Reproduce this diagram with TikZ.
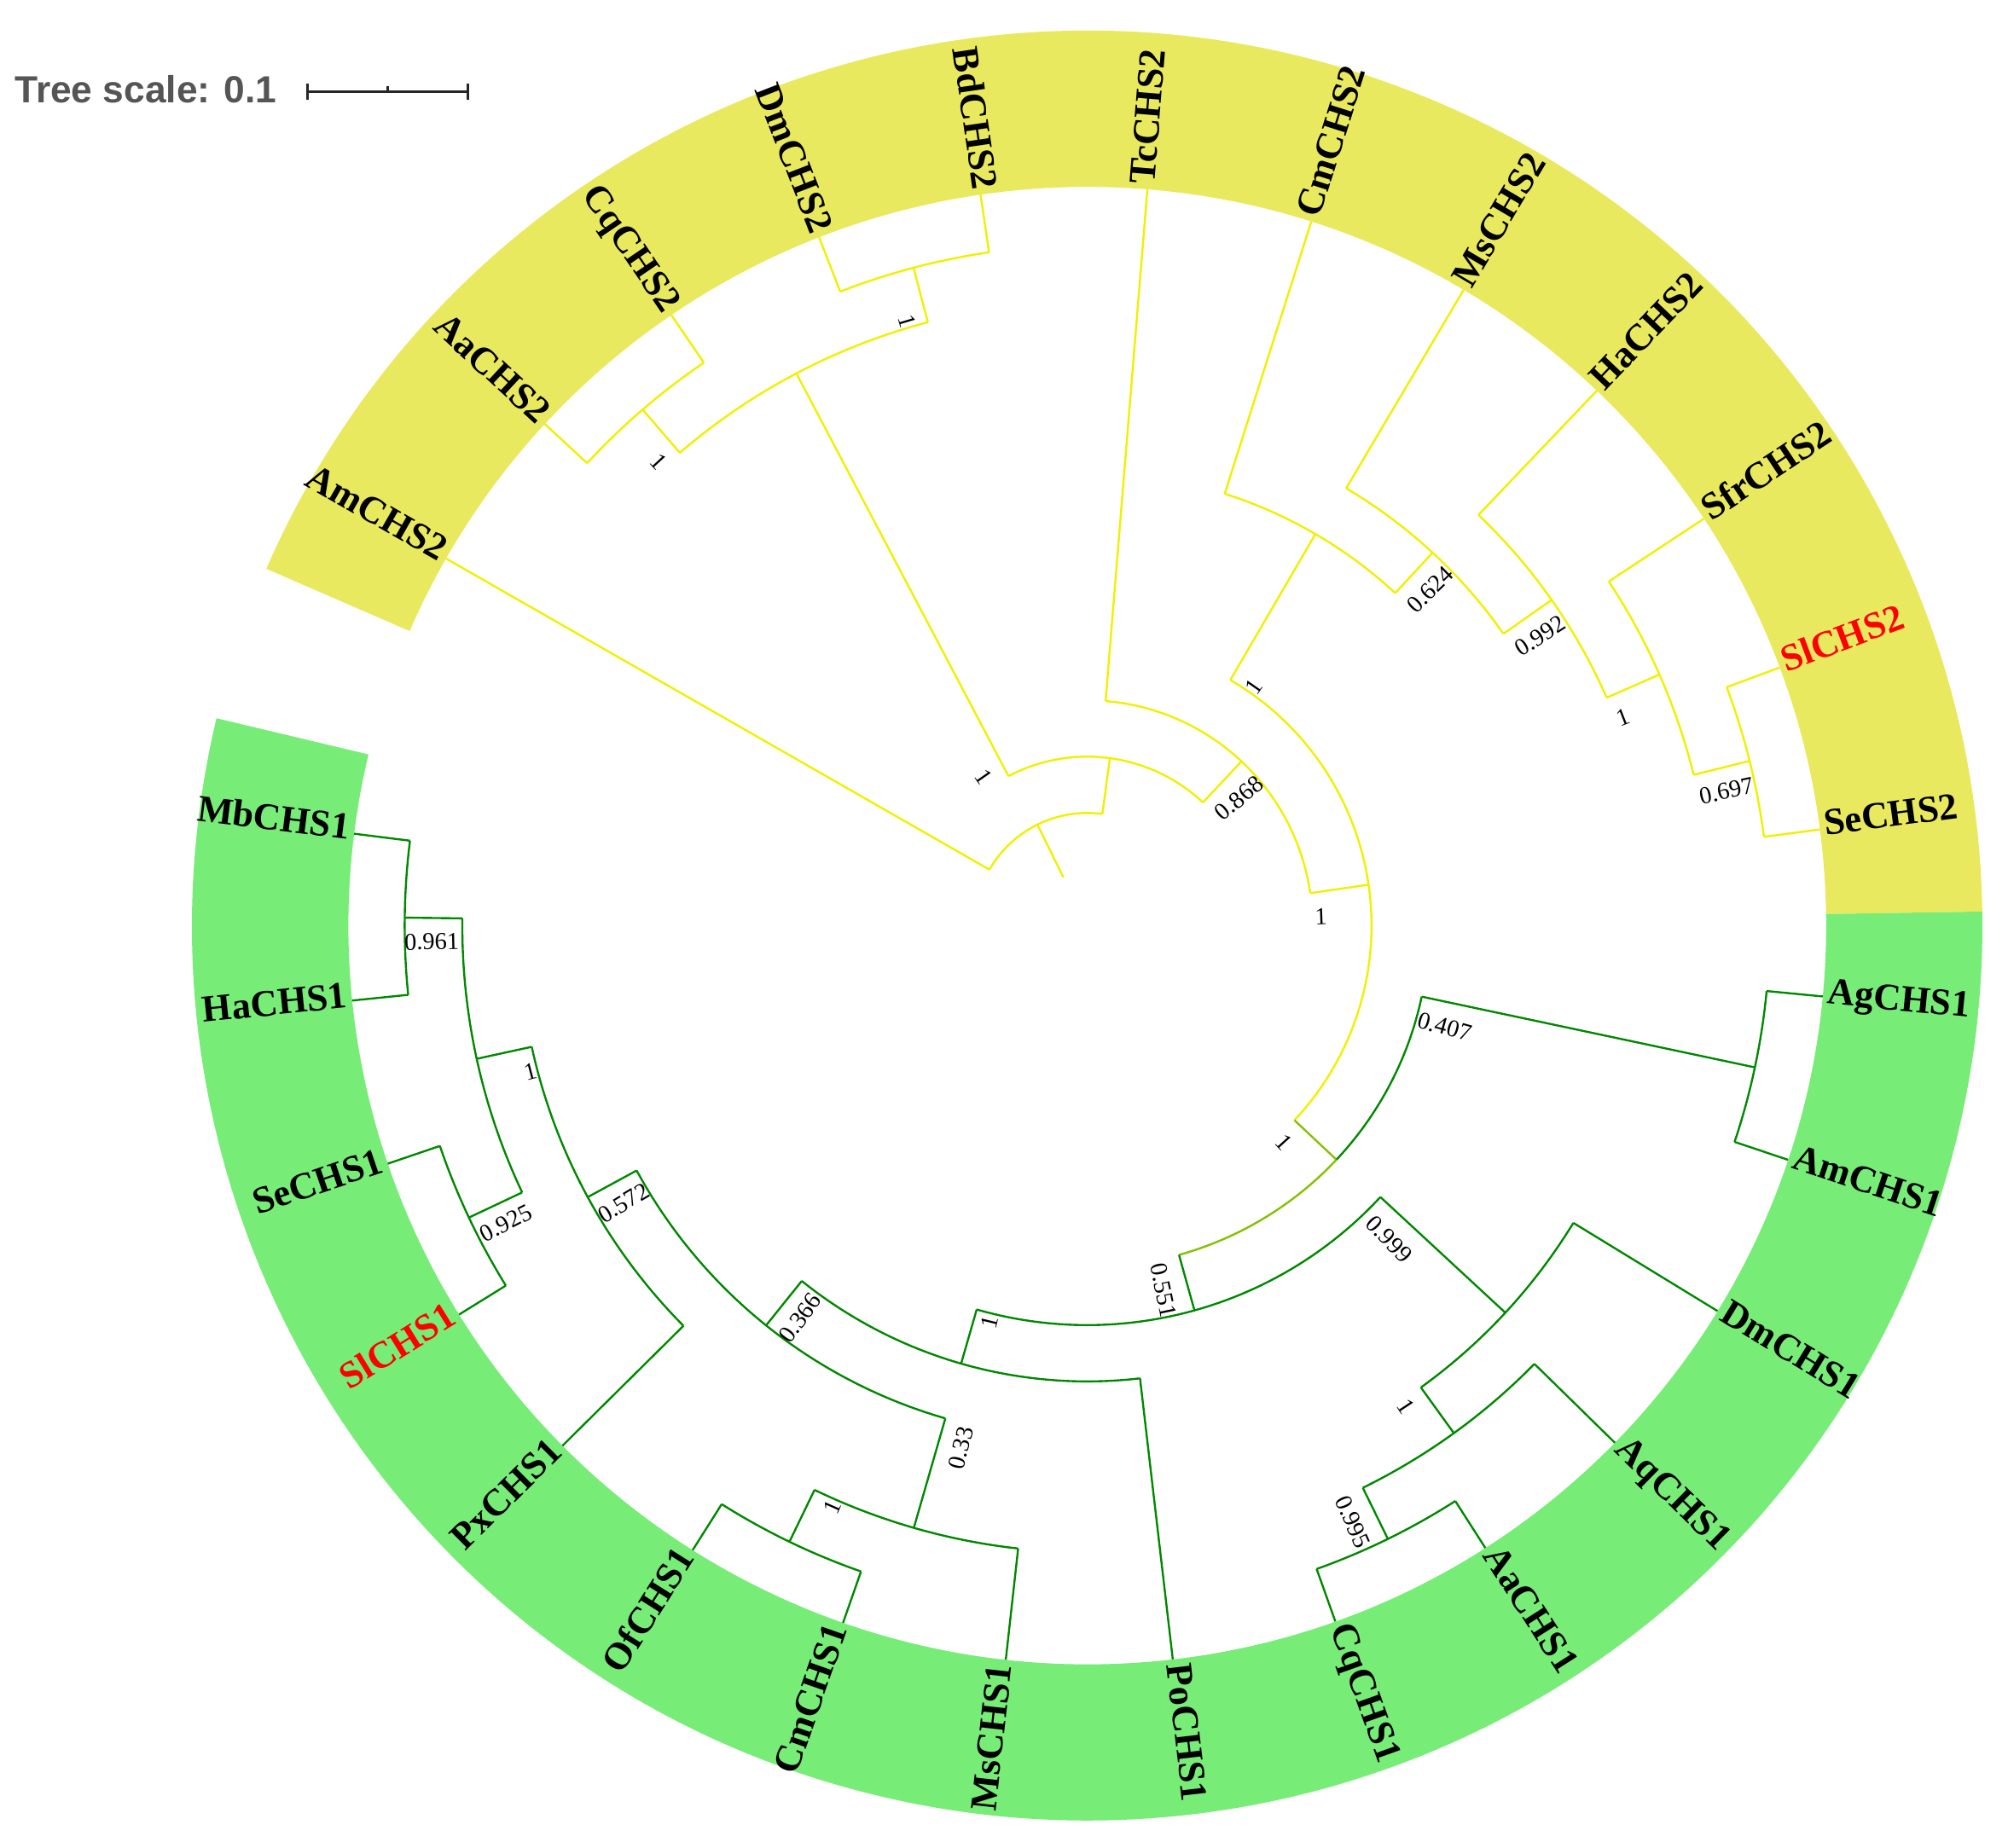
\documentclass[tikz,border=0pt]{standalone}
\usepackage{fontspec}
\setmainfont{Liberation Serif}
\newfontfamily\scalesans{Liberation Sans}
\definecolor{ringyellow}{HTML}{E9E95F}
\definecolor{ringgreen}{HTML}{77EC77}
\definecolor{branchyellow}{HTML}{F0F000}
\definecolor{branchgreen}{HTML}{008800}
\definecolor{scalegray}{HTML}{555555}
\begin{document}
\begin{tikzpicture}[x=0.02cm, y=0.02cm]
  \tikzstyle{yb} = [draw=branchyellow, line width=0.9pt]
  \tikzstyle{gb} = [draw=branchgreen, line width=0.9pt]
  \tikzstyle{ygb} = [draw=branchyellow!55!branchgreen, line width=0.9pt]
  \tikzstyle{leaf} = [font=\fontsize{16.8}{20}\selectfont\bfseries, inner sep=2pt, text height=1.5ex, text depth=0.2ex]
  \tikzstyle{boot} = [font=\fontsize{10.8}{12}\selectfont, inner sep=0pt]

  \useasboundingbox (-849,-720) rectangle (719,723);

  % scale bar
  \node (scaletext) [anchor=base west, inner sep=0pt, text=scalegray, font=\scalesans\bfseries\fontsize{16.8}{20}\selectfont] at (-837.7,642.4) {Tree scale: 0.1};
  \coordinate (sbl) at (-609,651.4);
  \coordinate (sbr) at (-483.6,651.4);
  \coordinate (sbm) at (-546.3,651.4);
  \draw [line width=1.1pt, black!85] (sbl) -- (sbr);
  \draw [line width=1.1pt, black!85] (-609,645) -- (-609,657.8);
  \draw [line width=1.1pt, black!85] (-483.6,645) -- (-483.6,657.8);
  \draw [line width=1.1pt, black!85] (sbm) -- (-546.3,655.4);

  % coloured ring
  \fill [ringyellow] (0.9:577) arc[start angle=0.9, end angle=156.5, radius=577] -- (156.5:699) arc[start angle=156.5, end angle=0.9, radius=699] -- cycle;
  \fill [ringgreen] (0.9:577) arc[start angle=0.9, end angle=-193.4, radius=577] -- (-193.4:699) arc[start angle=-193.4, end angle=0.9, radius=699] -- cycle;

  % leaves, CHS2
  \node (amchs2) [leaf, anchor=east, rotate=330.20] at (150.20:577) {AmCHS2};
  \node (aachs2) [leaf, anchor=east, rotate=317.23] at (137.23:577) {AaCHS2};
  \node (cqchs2) [leaf, anchor=east, rotate=304.25] at (124.25:577) {CqCHS2};
  \node (dmchs2) [leaf, anchor=east, rotate=291.28] at (111.28:577) {DmCHS2};
  \node (bdchs2) [leaf, anchor=east, rotate=278.30] at (98.30:577) {BdCHS2};
  \node (tcchs2) [leaf, anchor=west, rotate=85.33] at (85.33:577) {TcCHS2};
  \node (cmchs2) [leaf, anchor=west, rotate=72.35] at (72.35:577) {CmCHS2};
  \node (mschs2) [leaf, anchor=west, rotate=59.38] at (59.38:577) {MsCHS2};
  \node (hachs2) [leaf, anchor=west, rotate=46.40] at (46.40:577) {HaCHS2};
  \node (sfrchs2) [leaf, anchor=west, rotate=33.43] at (33.43:577) {SfrCHS2};
  \node (slchs2) [leaf, anchor=west, rotate=20.45, text=red] at (20.45:577) {SlCHS2};
  \node (sechs2) [leaf, anchor=west, rotate=7.48] at (7.48:577) {SeCHS2};

  % leaves, CHS1
  \node (agchs1) [leaf, anchor=west, rotate=-5.50] at (-5.50:577) {AgCHS1};
  \node (amchs1) [leaf, anchor=west, rotate=-18.48] at (-18.48:577) {AmCHS1};
  \node (dmchs1) [leaf, anchor=west, rotate=-31.45] at (-31.45:577) {DmCHS1};
  \node (aqchs1) [leaf, anchor=west, rotate=-44.43] at (-44.43:577) {AqCHS1};
  \node (aachs1) [leaf, anchor=west, rotate=-57.40] at (-57.40:577) {AaCHS1};
  \node (cqchs1) [leaf, anchor=west, rotate=-70.38] at (-70.38:577) {CqCHS1};
  \node (pochs1) [leaf, anchor=west, rotate=-83.35] at (-83.35:577) {PoCHS1};
  \node (mschs1) [leaf, anchor=east, rotate=83.67] at (-96.33:577) {MsCHS1};
  \node (cmchs1) [leaf, anchor=east, rotate=70.70] at (-109.30:577) {CmCHS1};
  \node (ofchs1) [leaf, anchor=east, rotate=57.72] at (-122.28:577) {OfCHS1};
  \node (pxchs1) [leaf, anchor=east, rotate=44.75] at (-135.25:577) {PxCHS1};
  \node (slchs1) [leaf, anchor=east, rotate=31.77, text=red] at (-148.23:577) {SlCHS1};
  \node (sechs1) [leaf, anchor=east, rotate=18.80] at (-161.20:577) {SeCHS1};
  \node (hachs1) [leaf, anchor=east, rotate=5.82] at (-174.18:577) {HaCHS1};
  \node (mbchs1) [leaf, anchor=east, rotate=-7.15] at (-187.15:577) {MbCHS1};

  % inner nodes
  \coordinate (root) at (116.25:42);
  \coordinate (nD) at (116.25:88);
  \coordinate (nC) at (82.29:132);
  \coordinate (nE) at (117.77:487.5);
  \coordinate (nF) at (130.74:532);
  \coordinate (nG) at (104.79:531.5);
  \coordinate (nA) at (46.81:176);
  \coordinate (nB) at (8.29:222);
  \coordinate (nH) at (59.78:354);
  \coordinate (nI) at (47.21:397);
  \coordinate (nJ) at (35.05:443);
  \coordinate (nK) at (23.70:488);
  \coordinate (nL) at (13.97:533);
  \coordinate (gRoot) at (-43.21:267);
  \coordinate (gM) at (-11.99:533);
  \coordinate (gN) at (-74.43:312);
  \coordinate (gU) at (-42.80:445);
  \coordinate (gAB) at (-54.16:489);
  \coordinate (gAC) at (-63.89:533.5);
  \coordinate (gT) at (-106.06:356);
  \coordinate (gS) at (-128.77:400.5);
  \coordinate (gV) at (-106.06:489.5);
  \coordinate (gAA) at (-115.79:534.5);
  \coordinate (gW) at (-151.47:444);
  \coordinate (gX) at (-167.69:488);
  \coordinate (gZ) at (-154.72:534);
  \coordinate (gY) at (-180.67:533);

  % CHS2 branches
  \draw [yb] (root) -- (nD);
  \draw [yb] (150.20:88) arc[start angle=150.20, end angle=82.29, radius=88];
  \draw [yb] (150.20:88) -- (amchs2);
  \draw [yb] (82.29:88) -- (nC);
  \draw [yb] (117.77:132) arc[start angle=117.77, end angle=46.81, radius=132];
  \draw [yb] (117.77:132) -- (nE);
  \draw [yb] (130.74:487.5) arc[start angle=130.74, end angle=104.79, radius=487.5];
  \draw [yb] (130.74:487.5) -- (nF);
  \draw [yb] (137.23:532) arc[start angle=137.23, end angle=124.25, radius=532];
  \draw [yb] (137.23:532) -- (aachs2);
  \draw [yb] (124.25:532) -- (cqchs2);
  \draw [yb] (104.79:487.5) -- (nG);
  \draw [yb] (111.28:531.5) arc[start angle=111.28, end angle=98.30, radius=531.5];
  \draw [yb] (111.28:531.5) -- (dmchs2);
  \draw [yb] (98.30:531.5) -- (bdchs2);
  \draw [yb] (46.81:132) -- (nA);
  \draw [yb] (85.33:176) arc[start angle=85.33, end angle=8.29, radius=176];
  \draw [yb] (85.33:176) -- (tcchs2);
  \draw [yb] (8.29:176) -- (nB);
  \draw [yb] (59.78:222) arc[start angle=59.78, end angle=-43.21, radius=222];
  \draw [yb] (59.78:222) -- (nH);
  \draw [yb] (72.35:354) arc[start angle=72.35, end angle=47.21, radius=354];
  \draw [yb] (72.35:354) -- (cmchs2);
  \draw [yb] (47.21:354) -- (nI);
  \draw [yb] (59.38:397) arc[start angle=59.38, end angle=35.05, radius=397];
  \draw [yb] (59.38:397) -- (mschs2);
  \draw [yb] (35.05:397) -- (nJ);
  \draw [yb] (46.40:443) arc[start angle=46.40, end angle=23.70, radius=443];
  \draw [yb] (46.40:443) -- (hachs2);
  \draw [yb] (23.70:443) -- (nK);
  \draw [yb] (33.43:488) arc[start angle=33.43, end angle=13.97, radius=488];
  \draw [yb] (33.43:488) -- (sfrchs2);
  \draw [yb] (13.97:488) -- (nL);
  \draw [yb] (20.45:533) arc[start angle=20.45, end angle=7.48, radius=533];
  \draw [yb] (20.45:533) -- (slchs2);
  \draw [yb] (7.48:533) -- (sechs2);

  % CHS1 branches
  \draw [ygb] (-43.21:222) -- (gRoot);
  \draw [gb] (-11.99:267) arc[start angle=-11.99, end angle=-43.21, radius=267];
  \draw [ygb] (-43.21:267) arc[start angle=-43.21, end angle=-74.43, radius=267];
  \draw [gb] (-11.99:267) -- (gM);
  \draw [gb] (-5.50:533) arc[start angle=-5.50, end angle=-18.48, radius=533];
  \draw [gb] (-5.50:533) -- (agchs1);
  \draw [gb] (-18.48:533) -- (amchs1);
  \draw [gb] (-74.43:267) -- (gN);
  \draw [gb] (-42.80:312) arc[start angle=-42.80, end angle=-106.06, radius=312];
  \draw [gb] (-42.80:312) -- (gU);
  \draw [gb] (-31.45:445) arc[start angle=-31.45, end angle=-54.16, radius=445];
  \draw [gb] (-31.45:445) -- (dmchs1);
  \draw [gb] (-54.16:445) -- (gAB);
  \draw [gb] (-44.43:489) arc[start angle=-44.43, end angle=-63.89, radius=489];
  \draw [gb] (-44.43:489) -- (aqchs1);
  \draw [gb] (-63.89:489) -- (gAC);
  \draw [gb] (-57.40:533.5) arc[start angle=-57.40, end angle=-70.38, radius=533.5];
  \draw [gb] (-57.40:533.5) -- (aachs1);
  \draw [gb] (-70.38:533.5) -- (cqchs1);
  \draw [gb] (-106.06:312) -- (gT);
  \draw [gb] (-83.35:356) arc[start angle=-83.35, end angle=-128.77, radius=356];
  \draw [gb] (-83.35:356) -- (pochs1);
  \draw [gb] (-128.77:356) -- (gS);
  \draw [gb] (-106.06:400.5) arc[start angle=-106.06, end angle=-151.47, radius=400.5];
  \draw [gb] (-106.06:400.5) -- (gV);
  \draw [gb] (-96.33:489.5) arc[start angle=-96.33, end angle=-115.79, radius=489.5];
  \draw [gb] (-96.33:489.5) -- (mschs1);
  \draw [gb] (-115.79:489.5) -- (gAA);
  \draw [gb] (-109.30:534.5) arc[start angle=-109.30, end angle=-122.28, radius=534.5];
  \draw [gb] (-109.30:534.5) -- (cmchs1);
  \draw [gb] (-122.28:534.5) -- (ofchs1);
  \draw [gb] (-151.47:400.5) -- (gW);
  \draw [gb] (-135.25:444) arc[start angle=-135.25, end angle=-167.69, radius=444];
  \draw [gb] (-135.25:444) -- (pxchs1);
  \draw [gb] (-167.69:444) -- (gX);
  \draw [gb] (-154.72:488) arc[start angle=-154.72, end angle=-180.67, radius=488];
  \draw [gb] (-154.72:488) -- (gZ);
  \draw [gb] (-148.23:534) arc[start angle=-148.23, end angle=-161.20, radius=534];
  \draw [gb] (-148.23:534) -- (slchs1);
  \draw [gb] (-161.20:534) -- (sechs1);
  \draw [gb] (-180.67:488) -- (gY);
  \draw [gb] (-174.18:533) arc[start angle=-174.18, end angle=-187.15, radius=533];
  \draw [gb] (-174.18:533) -- (hachs1);
  \draw [gb] (-187.15:533) -- (mbchs1);

  % support values
  \node (sE) [boot, rotate=304.9] at (124.9:141.5) {1};
  \node (sF) [boot, rotate=312.7] at (132.7:493) {1};
  \node (sG) [boot, rotate=286.6] at (106.6:493) {1};
  \node (sA) [boot, rotate=40] at (40:154.7) {0.868};
  \node (sB) [boot, rotate=2.2] at (2.2:182.6) {1};
  \node (sH) [boot, rotate=55.2] at (55.2:227.5) {1};
  \node (sI) [boot, rotate=44.4] at (44.4:374.8) {0.624};
  \node (sJ) [boot, rotate=32.6] at (32.6:420) {0.992};
  \node (sK) [boot, rotate=21.25] at (21.25:449) {1};
  \node (sL) [boot, rotate=11.9] at (11.9:510) {0.697};
  \node (sRoot) [boot, rotate=-47.8] at (-47.8:228.8) {1};
  \node (sM) [boot, rotate=-15.8] at (-15.8:290) {0.407};
  \node (sN) [boot, rotate=-78.2] at (-78.2:291) {0.551};
  \node (sU) [boot, rotate=-46.1] at (-46.1:340) {0.999};
  \node (sAB) [boot, rotate=-56.5] at (-56.5:450.5) {1};
  \node (sAC) [boot, rotate=-66] at (-66:510) {0.995};
  \node (sT) [boot, rotate=76.2] at (-103.8:318.8) {1};
  \node (sS) [boot, rotate=53.8] at (-126.2:379.7) {0.366};
  \node (sV) [boot, rotate=76.4] at (-103.6:419.6) {0.33};
  \node (sAA) [boot, rotate=66.3] at (-113.7:495.7) {1};
  \node (sW) [boot, rotate=30.9] at (-149.1:422) {0.572};
  \node (sX) [boot, rotate=14.7] at (-165.3:449.4) {1};
  \node (sY) [boot, rotate=1.4] at (-178.6:512) {0.961};
  \node (sZ) [boot, rotate=27.1] at (-152.9:510) {0.925};
\end{tikzpicture}
\end{document}
